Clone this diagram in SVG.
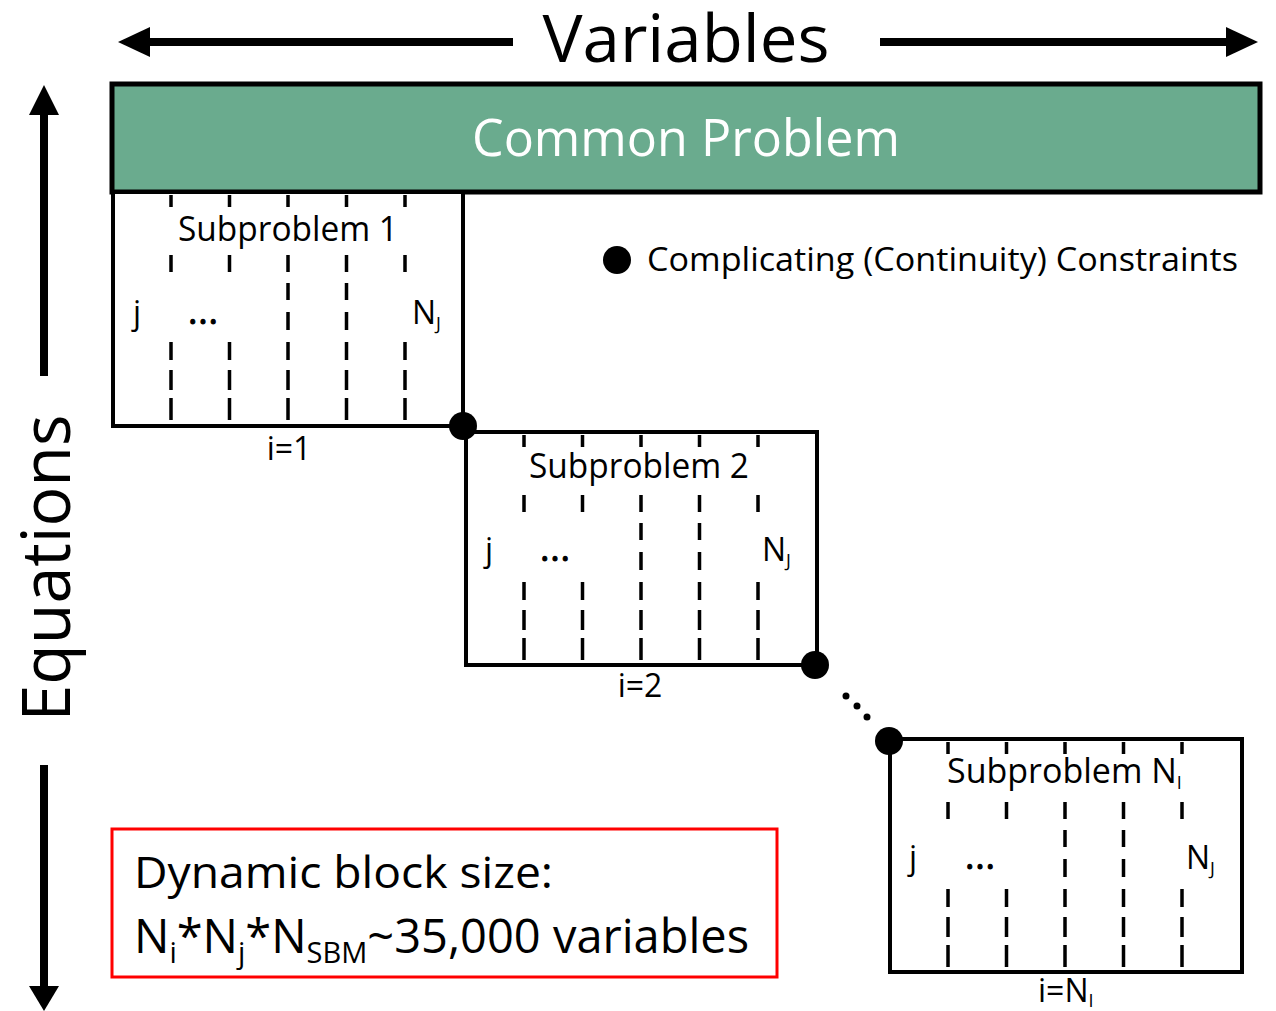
<svg xmlns="http://www.w3.org/2000/svg" width="1276" height="1011" viewBox="0 0 1276 1011">
<style>
  text { font-family: "Open Sans", "Noto Sans", "Liberation Sans", sans-serif; fill: #000; }
  .box { fill: #fff; stroke: #000; stroke-width: 4; }
  .dash { stroke: #000; stroke-width: 3.5; fill: none; }
  .arrow { stroke: #000; stroke-width: 8; fill: none; }
  .sub { font-size: 34px; }
  .lbl { font-size: 32px; }
  .dots { font-size: 36px; stroke: #000; stroke-width: 1; }
  .sm { font-size: 18px; }
</style>
<defs>
  <path id="dashes" d="M58 3V15M58 63V80M58 150V168M58 178V198M58 206V228
    M116.5 3V15M116.5 63V80M116.5 150V168M116.5 178V198M116.5 206V228
    M175 3V15M175 63V80M175 91V108M175 120V138M175 150V168M175 178V198M175 206V228
    M233.5 3V15M233.5 63V80M233.5 91V108M233.5 120V138M233.5 150V168M233.5 178V198M233.5 206V228
    M292 3V15M292 63V80M292 150V168M292 178V198M292 206V228"/>
</defs>

<g id="axes">
  <path class="arrow" d="M148 42H513M880 42H1227"/>
  <polygon points="118,42 150,27 150,57"/>
  <polygon points="1258,42 1226,27 1226,57"/>
  <text x="686" y="62" font-size="66" text-anchor="middle" textLength="287" lengthAdjust="spacingAndGlyphs">Variables</text>
  <path class="arrow" d="M44 113V376M44 765V988"/>
  <polygon points="44,85 29,115 59,115"/>
  <polygon points="44,1011 29,986 59,986"/>
  <text transform="translate(70,568) rotate(-90)" font-size="68" text-anchor="middle" textLength="307" lengthAdjust="spacingAndGlyphs">Equations</text>
</g>

<g id="common">
  <rect x="112" y="84" width="1148" height="108" fill="#6aab8e" stroke="#000" stroke-width="5"/>
  <text x="686" y="156" font-size="52" style="fill:#fff" text-anchor="middle" textLength="428" lengthAdjust="spacingAndGlyphs">Common Problem</text>
</g>

<g id="sub1">
  <path class="box" d="M113 194V426H463V194" />
  <use href="#dashes" class="dash" transform="translate(113,192)"/>
  <text class="sub" x="288" y="241" text-anchor="middle" textLength="220" lengthAdjust="spacingAndGlyphs">Subproblem 1</text>
  <text class="lbl" x="133" y="324">j</text>
  <text class="dots" x="188" y="324" textLength="30" lengthAdjust="spacing">...</text>
  <text class="lbl" x="412" y="324">N<tspan class="sm" dy="6">J</tspan></text>
  <text class="lbl" x="289" y="460" text-anchor="middle">i=1</text>
</g>

<g id="sub2">
  <rect class="box" x="466" y="432" width="351" height="233"/>
  <use href="#dashes" class="dash" transform="translate(466,432)"/>
  <text class="sub" x="639" y="478" text-anchor="middle" textLength="220" lengthAdjust="spacingAndGlyphs">Subproblem 2</text>
  <text class="lbl" x="485" y="561">j</text>
  <text class="dots" x="540" y="561" textLength="30" lengthAdjust="spacing">...</text>
  <text class="lbl" x="762" y="561">N<tspan class="sm" dy="6">J</tspan></text>
  <text class="lbl" x="640" y="697" text-anchor="middle">i=2</text>
</g>

<g id="sub3">
  <rect class="box" x="890" y="739" width="352" height="233"/>
  <use href="#dashes" class="dash" transform="translate(890,739)"/>
  <text class="sub" x="947" y="783">Subproblem N<tspan class="sm" dy="6">I</tspan></text>
  <text class="lbl" x="909" y="869">j</text>
  <text class="dots" x="965" y="869" textLength="30" lengthAdjust="spacing">...</text>
  <text class="lbl" x="1186" y="869">N<tspan class="sm" dy="6">J</tspan></text>
  <text class="lbl" x="1038" y="1002">i=N<tspan class="sm" dy="5">I</tspan></text>
</g>

<g id="connectors">
  <circle cx="463" cy="426" r="14"/>
  <circle cx="815" cy="665" r="14"/>
  <circle cx="889" cy="741" r="14"/>
  <circle cx="846" cy="696" r="3.5"/>
  <circle cx="857" cy="706" r="3.5"/>
  <circle cx="867" cy="717" r="3.5"/>
</g>

<g id="legend">
  <circle cx="617" cy="260" r="14"/>
  <text x="647" y="271" font-size="33" textLength="591" lengthAdjust="spacingAndGlyphs">Complicating (Continuity) Constraints</text>
</g>

<g id="note">
  <rect x="112" y="829" width="665" height="148" fill="none" stroke="#f00" stroke-width="3"/>
  <text x="134" y="888" font-size="44" textLength="419" lengthAdjust="spacingAndGlyphs">Dynamic block size:</text>
  <text x="134" y="953" font-size="47">N<tspan font-size="29" dy="10">i</tspan><tspan dy="-10">*N</tspan><tspan font-size="29" dy="10">j</tspan><tspan dy="-10">*N</tspan><tspan font-size="29" dy="10">SBM</tspan><tspan dy="-10">~35,000 variables</tspan></text>
</g>
</svg>
